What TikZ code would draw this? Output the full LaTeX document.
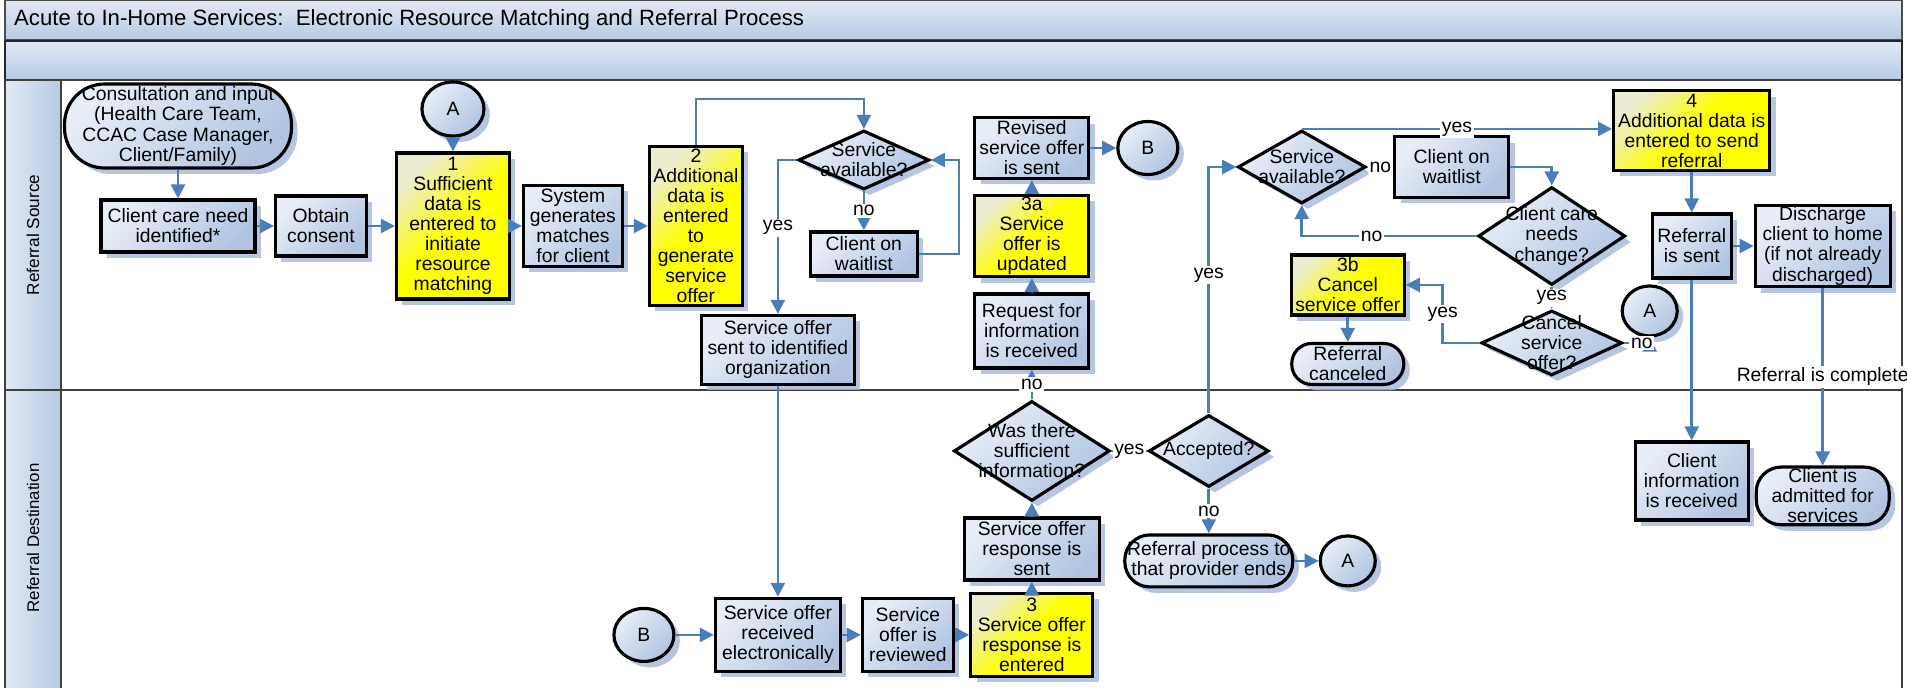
\documentclass[tikz,border=0pt]{standalone}
\usepackage{fontspec}
\setmainfont{Liberation Sans}
\usetikzlibrary{shapes.geometric, arrows.meta, shadows, positioning}

\definecolor{flowblue}{RGB}{74,126,187}
\definecolor{boxlight}{RGB}{232,238,247}
\definecolor{boxdark}{RGB}{176,196,226}
\definecolor{paleyellow}{RGB}{236,236,208}
\definecolor{shadowblue}{RGB}{164,183,218}
\definecolor{barlight}{RGB}{226,233,245}
\definecolor{bardark}{RGB}{182,202,228}

\tikzstyle{task} = [rectangle, draw=black, line width=1.8pt, top color=boxlight, bottom color=boxdark, shading angle=45, align=center, inner sep=1pt, drop shadow={shadow xshift=0.12cm, shadow yshift=-0.12cm, fill=shadowblue, opacity=0.8}]
\tikzstyle{keytask} = [task, top color=paleyellow, bottom color=yellow, middle color=yellow, shading angle=45]
\tikzstyle{terminal} = [task, rounded corners=0.5cm]
\tikzstyle{decision} = [diamond, draw=black, line width=1.8pt, top color=boxlight, bottom color=boxdark, shading angle=45, inner sep=0pt, drop shadow={shadow xshift=0.12cm, shadow yshift=-0.12cm, fill=shadowblue, opacity=0.8}]
\tikzstyle{dtext} = [align=center, inner sep=0pt]
\tikzstyle{connector} = [ellipse, draw=black, line width=1.8pt, top color=boxlight, bottom color=boxdark, shading angle=45, inner sep=0pt, drop shadow={shadow xshift=0.12cm, shadow yshift=-0.12cm, fill=shadowblue, opacity=0.8}]
\tikzstyle{bar} = [top color=barlight, bottom color=bardark]
\tikzstyle{lanehead} = [left color=barlight, right color=bardark, draw=black!75, line width=0.8pt]
\tikzstyle{cond} = [fill=white, inner sep=1pt]
\tikzstyle{arrow} = [line width=1.5pt, draw=flowblue, -{Triangle[length=8pt,width=8pt]}]
\tikzstyle{link} = [line width=1.5pt, draw=flowblue]

\begin{document}
\begin{tikzpicture}[node distance=2cm, x=0.02cm, y=-0.02cm, font=\fontsize{11}{11.4}\selectfont]

		\useasboundingbox (0,0) rectangle (1907,687);
		\fill [white] (0,0) rectangle (1907,687);
		\draw [bar, draw=gray!60!black, line width=0.8pt] (5,0) rectangle (1902,40);
		\draw [bar, draw=black!85, line width=1.6pt] (5,41) rectangle (1902,80);
		\draw [draw=black!75, line width=0.8pt] (5,80) rectangle (1902,700);
		\draw [lanehead] (5,80) rectangle (61,700);
		\draw [draw=black!75, line width=1pt] (5,390) -- (1902,390);

		\node (title) [anchor=west, font=\fontsize{12.6}{14}\selectfont] at (8,20) {Acute to In-Home Services:\ \ Electronic Resource Matching and Referral Process};
		\node (source) [rotate=90, font=\fontsize{9.8}{11}\selectfont] at (33,235) {Referral Source};
		\node (destination) [rotate=90, font=\fontsize{9.6}{11}\selectfont] at (33,538) {Referral Destination};

		\node (consult) [terminal, rounded corners=0.8cm, minimum width=4.54cm, minimum height=1.68cm] at (178,126) {Consultation and input\\(Health Care Team,\\CCAC Case Manager,\\Client/Family)};
		\node (need) [task, below of=consult, minimum width=3.08cm, minimum height=1.04cm] {Client care need\\identified*};
		\node (consent) [task, right of=need, xshift=0.86cm, minimum width=1.82cm, minimum height=1.2cm] {Obtain\\consent};
		\node (step1) [keytask, right of=consent, xshift=0.64cm, minimum width=2.26cm, minimum height=2.92cm] {1\\Sufficient\\data is\\entered to\\initiate\\resource\\matching};
		\node (linkA1) [connector, above of=step1, yshift=0.34cm, minimum width=1.24cm, minimum height=1.08cm] {A};
		\node (matches) [task, right of=step1, xshift=0.4cm, minimum width=1.98cm, minimum height=1.62cm] {System\\generates\\matches\\for client};
		\node (step2) [keytask, right of=matches, xshift=0.46cm, minimum width=1.86cm, minimum height=3.18cm] {2\\Additional\\data is\\entered\\to\\generate\\service\\offer};
		\node (avail1) [decision, right of=step2, xshift=1.36cm, yshift=1.32cm, minimum width=2.62cm, minimum height=1.18cm, label={[dtext]center:Service\\available?}] {};
		\node (wait1) [task, below of=avail1, yshift=0.12cm, minimum width=2.14cm, minimum height=0.88cm] {Client on\\waitlist};
		\node (offer) [task, below of=step2, xshift=1.64cm, yshift=-0.48cm, minimum width=3.06cm, minimum height=1.38cm] {Service offer\\sent to identified\\organization};

		\node (received) [task, below of=offer, yshift=-3.7cm, minimum width=2.5cm, minimum height=1.46cm] {Service offer\\received\\electronically};
		\node (linkB1) [connector, left of=received, xshift=-0.68cm, minimum width=1.2cm, minimum height=1.06cm] {B};
		\node (reviewed) [task, right of=received, xshift=0.6cm, minimum width=1.82cm, minimum height=1.46cm] {Service\\offer is\\reviewed};
		\node (step3) [keytask, right of=reviewed, xshift=0.48cm, minimum width=2.44cm, minimum height=1.66cm] {3\\Service offer\\response is\\entered};
		\node (response) [task, above of=step3, yshift=-0.28cm, minimum width=2.7cm, minimum height=1.24cm] {Service offer\\response is\\sent};
		\node (enough) [decision, above of=response, yshift=-0.04cm, minimum width=3.12cm, minimum height=2cm, label={[dtext]center:Was there\\sufficient\\information?}] {};
		\node (accepted) [decision, right of=enough, xshift=1.54cm, minimum width=2.4cm, minimum height=1.44cm, label={[dtext]center:Accepted?}] {};
		\node (ends) [terminal, below of=accepted, yshift=-0.2cm, minimum width=3.36cm, minimum height=1.04cm] {Referral process to\\that provider ends};
		\node (linkA2) [connector, right of=ends, xshift=0.78cm, minimum width=1.1cm, minimum height=1cm] {A};

		\node (request) [task, above of=enough, yshift=0.4cm, minimum width=2.28cm, minimum height=1.48cm] {Request for\\information\\is received};
		\node (step3a) [keytask, above of=request, yshift=-0.1cm, minimum width=2.28cm, minimum height=1.6cm] {3a\\Service\\offer is\\updated};
		\node (revised) [task, above of=step3a, yshift=-0.24cm, minimum width=2.28cm, minimum height=1.22cm] {Revised\\service offer\\is sent};
		\node (linkB2) [connector, right of=revised, xshift=0.32cm, minimum width=1.2cm, minimum height=1.06cm] {B};
		\node (avail2) [decision, right of=linkB2, xshift=1.08cm, yshift=-0.38cm, minimum width=2.56cm, minimum height=1.46cm, label={[dtext]center:Service\\available?}] {};
		\node (wait2) [task, right of=avail2, xshift=1cm, minimum width=2.28cm, minimum height=1.22cm] {Client on\\waitlist};
		\node (changes) [decision, right of=wait2, yshift=-1.38cm, minimum width=2.94cm, minimum height=1.96cm, label={[dtext]center:Client care\\needs\\change?}] {};
		\node (cancel) [decision, below of=changes, yshift=-0.14cm, minimum width=2.82cm, minimum height=1.3cm, label={[dtext]center:Cancel\\service\\offer?}] {};
		\node (step3b) [keytask, left of=cancel, xshift=-2.08cm, yshift=1.16cm, minimum width=2.26cm, minimum height=1.2cm] {3b\\Cancel\\service offer};
		\node (canceled) [terminal, below of=step3b, yshift=0.42cm, rounded corners=0.4cm, minimum width=2.24cm, minimum height=0.82cm] {Referral\\canceled};
		\node (linkA3) [connector, right of=cancel, xshift=-0.04cm, yshift=0.64cm, minimum width=1.1cm, minimum height=1cm] {A};
		\node (step4) [keytask, right of=wait2, xshift=2.8cm, yshift=0.73cm, minimum width=3.12cm, minimum height=1.6cm] {4\\Additional data is\\entered to send\\referral};
		\node (sent) [task, below of=step4, yshift=-0.31cm, minimum width=1.58cm, minimum height=1.28cm] {Referral\\is sent};
		\node (discharge) [task, right of=sent, xshift=0.62cm, minimum width=2.7cm, minimum height=1.6cm] {Discharge\\client to home\\(if not already\\discharged)};
		\node (info) [task, below of=sent, yshift=-2.7cm, minimum width=2.26cm, minimum height=1.56cm] {Client\\information\\is received};
		\node (admitted) [terminal, below of=discharge, yshift=-3cm, minimum width=2.66cm, minimum height=1.14cm] {Client is\\admitted for\\services};

		\draw [arrow] (consult) -- (need);
		\draw [arrow] (need) -- (consent);
		\draw [arrow] (consent) -- (step1);
		\draw [arrow] (linkA1) -- (step1);
		\draw [arrow] (step1) -- (matches);
		\draw [arrow] (matches) -- (step2);
		\draw [arrow] (step2.north) -- ++(0,-46) -| (avail1.north);
		\draw [arrow] (avail1.west) -| node [cond, pos=0.72] {yes} (offer.north);
		\draw [arrow] (avail1) -- node [cond] {no} (wait1);
		\draw [arrow] (wait1.east) -- ++(40,0) |- (avail1.east);
		\draw [arrow] (offer) -- (received);
		\draw [arrow] (linkB1) -- (received);
		\draw [arrow] (received) -- (reviewed);
		\draw [arrow] (reviewed) -- (step3);
		\draw [arrow] (step3) -- (response);
		\draw [arrow] (response) -- (enough);
		\draw [arrow] (enough) -- node [cond] {no} (request);
		\draw [arrow] (request) -- (step3a);
		\draw [arrow] (step3a) -- (revised);
		\draw [arrow] (revised) -- (linkB2);
		\draw [link] (enough) -- node [cond] {yes} (accepted);
		\draw [arrow] (accepted) -- node [cond] {no} (ends);
		\draw [arrow] (ends) -- (linkA2);
		\draw [arrow] (accepted.north) |- node [cond, pos=0.28] {yes} (avail2.west);
		\draw [arrow] (avail2.north) -- node [cond] {yes} (avail2.north -| step4.west);
		\draw [link] (avail2) -- node [cond] {no} (wait2);
		\draw [arrow] (wait2.east) -| (changes.north);
		\draw [arrow] (changes.west) -| node [cond, pos=0.3] {no} (avail2.south);
		\draw [arrow] (changes) -- node [cond] {yes} (cancel);
		\draw [arrow] (cancel.west) -- ++(-37,0) |- node [cond, pos=0.25] {yes} (step3b.east);
		\draw [arrow] (step3b) -- (canceled);
		\draw [arrow] (cancel.east) -| node [cond, pos=0.35] {no} (linkA3.south);
		\draw [arrow] (step4) -- (sent);
		\draw [arrow] (sent) -- (discharge);
		\draw [arrow] (sent) -- (info);
		\draw [arrow] (discharge) -- node [cond] {Referral is complete} (admitted);
		\end{tikzpicture}
\end{document}
